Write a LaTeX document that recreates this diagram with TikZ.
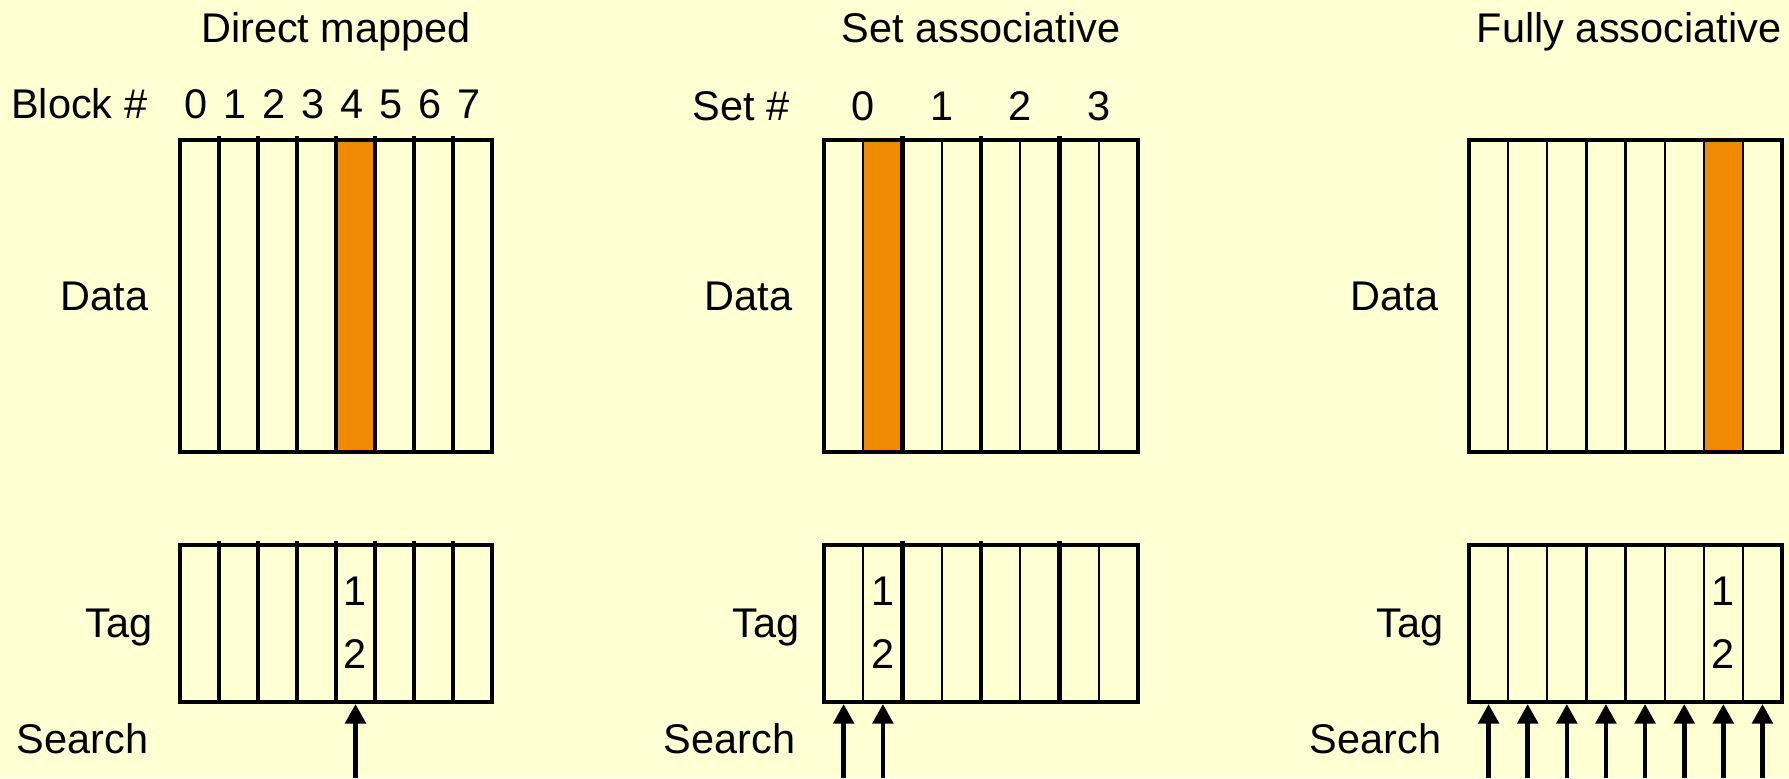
\documentclass[tikz,border=0pt]{standalone}
\usepackage{fontspec}
\setmainfont{Liberation Sans}
\usetikzlibrary{arrows.meta}
\definecolor{paper}{HTML}{FFFFD4}
\definecolor{hit}{HTML}{F08A00}
\begin{document}
\begin{tikzpicture}[x=0.1mm,y=-0.1mm,
  font=\fontsize{11.8}{14}\selectfont,
  outer/.style={line width=1.4pt},
  thickdiv/.style={line width=1.2pt},
  thindiv/.style={line width=0.65pt},
  lbl/.style={anchor=base east, inner sep=0pt},
  ttl/.style={anchor=base, inner sep=0pt},
  searcharrow/.style={line width=1.3pt, -{Triangle[width=5.8pt,length=5.6pt]}}]

% page
\fill[paper] (0,0) rectangle (1789,778);
\useasboundingbox (0,0) rectangle (1789,778);

% ---------------- Direct mapped ----------------
\node[ttl] (dm-title) at (336,42) {Direct mapped};
\node[lbl] (dm-block) at (148,118) {Block \#};
\foreach \i in {0,...,7}
  \node[ttl] (dm-num-\i) at ({180+(\i+0.5)*39-3},118) {\i};
\fill[hit] ({180+4*39},140) rectangle ({180+5*39},452);
\foreach \i in {1,...,7} {
  \draw[thickdiv] ({180+\i*39},136) -- ({180+\i*39},452);
  \draw[thickdiv] ({180+\i*39},541) -- ({180+\i*39},702);
}
\draw[outer] (180,140) rectangle (492,452);
\draw[outer] (180,545) rectangle (492,702);
\node[lbl] (dm-data) at (149,310) {Data};
\node[lbl] (dm-tag) at (153,637) {Tag};
\node[lbl] (dm-search) at (149,753) {Search};
\node[ttl] (dm-t1) at (355.5,605) {1};
\node[ttl] (dm-t2) at (355.5,668) {2};
\coordinate (dm-cell-4) at (355.5,704);
\coordinate (dm-src-4) at (355.5,778);
\draw[searcharrow] (dm-src-4) -- (dm-cell-4);

% ---------------- Set associative ----------------
\node[ttl] (sa-title) at (981,42) {Set associative};
\node[lbl] (sa-set) at (790,120) {Set \#};
\foreach \i in {0,...,3}
  \node[ttl] (sa-num-\i) at ({824+(2*\i+1)*39.25},120) {\i};
\fill[hit] ({824+39.25},140) rectangle ({824+2*39.25},452);
\foreach \i in {1,3,5,7} {
  \draw[thindiv] ({824+\i*39.25},140) -- ({824+\i*39.25},452);
  \draw[thindiv] ({824+\i*39.25},545) -- ({824+\i*39.25},702);
}
\foreach \i in {2,4,6} {
  \draw[outer] ({824+\i*39.25},136) -- ({824+\i*39.25},452);
  \draw[outer] ({824+\i*39.25},541) -- ({824+\i*39.25},702);
}
\draw[outer] (824,140) rectangle (1138,452);
\draw[outer] (824,545) rectangle (1138,702);
\node[lbl] (sa-data) at (793,310) {Data};
\node[lbl] (sa-tag) at (800,637) {Tag};
\node[lbl] (sa-search) at (796,753) {Search};
\node[ttl] (sa-t1) at ({824+1.5*39.25},605) {1};
\node[ttl] (sa-t2) at ({824+1.5*39.25},668) {2};
\foreach \i in {0,1} {
  \coordinate (sa-cell-\i) at ({824+(\i+0.5)*39.25},704);
  \coordinate (sa-src-\i) at ({824+(\i+0.5)*39.25},778);
  \draw[searcharrow] (sa-src-\i) -- (sa-cell-\i);
}

% ---------------- Fully associative ----------------
\node[ttl] (fa-title) at (1629,42) {Fully associative};
\fill[hit] ({1469+6*39.125},140) rectangle ({1469+7*39.125},452);
\foreach \i in {1,...,7} {
  \draw[thindiv] ({1469+\i*39.125},140) -- ({1469+\i*39.125},452);
  \draw[thindiv] ({1469+\i*39.125},545) -- ({1469+\i*39.125},702);
}
\draw[outer] (1469,140) rectangle (1782,452);
\draw[outer] (1469,545) rectangle (1782,702);
\node[lbl] (fa-data) at (1439,310) {Data};
\node[lbl] (fa-tag) at (1444,637) {Tag};
\node[lbl] (fa-search) at (1442,753) {Search};
\node[ttl] (fa-t1) at ({1469+6.5*39.125},605) {1};
\node[ttl] (fa-t2) at ({1469+6.5*39.125},668) {2};
\foreach \i in {0,...,7} {
  \coordinate (fa-cell-\i) at ({1469+(\i+0.5)*39.125},704);
  \coordinate (fa-src-\i) at ({1469+(\i+0.5)*39.125},778);
  \draw[searcharrow] (fa-src-\i) -- (fa-cell-\i);
}
\end{tikzpicture}
\end{document}
